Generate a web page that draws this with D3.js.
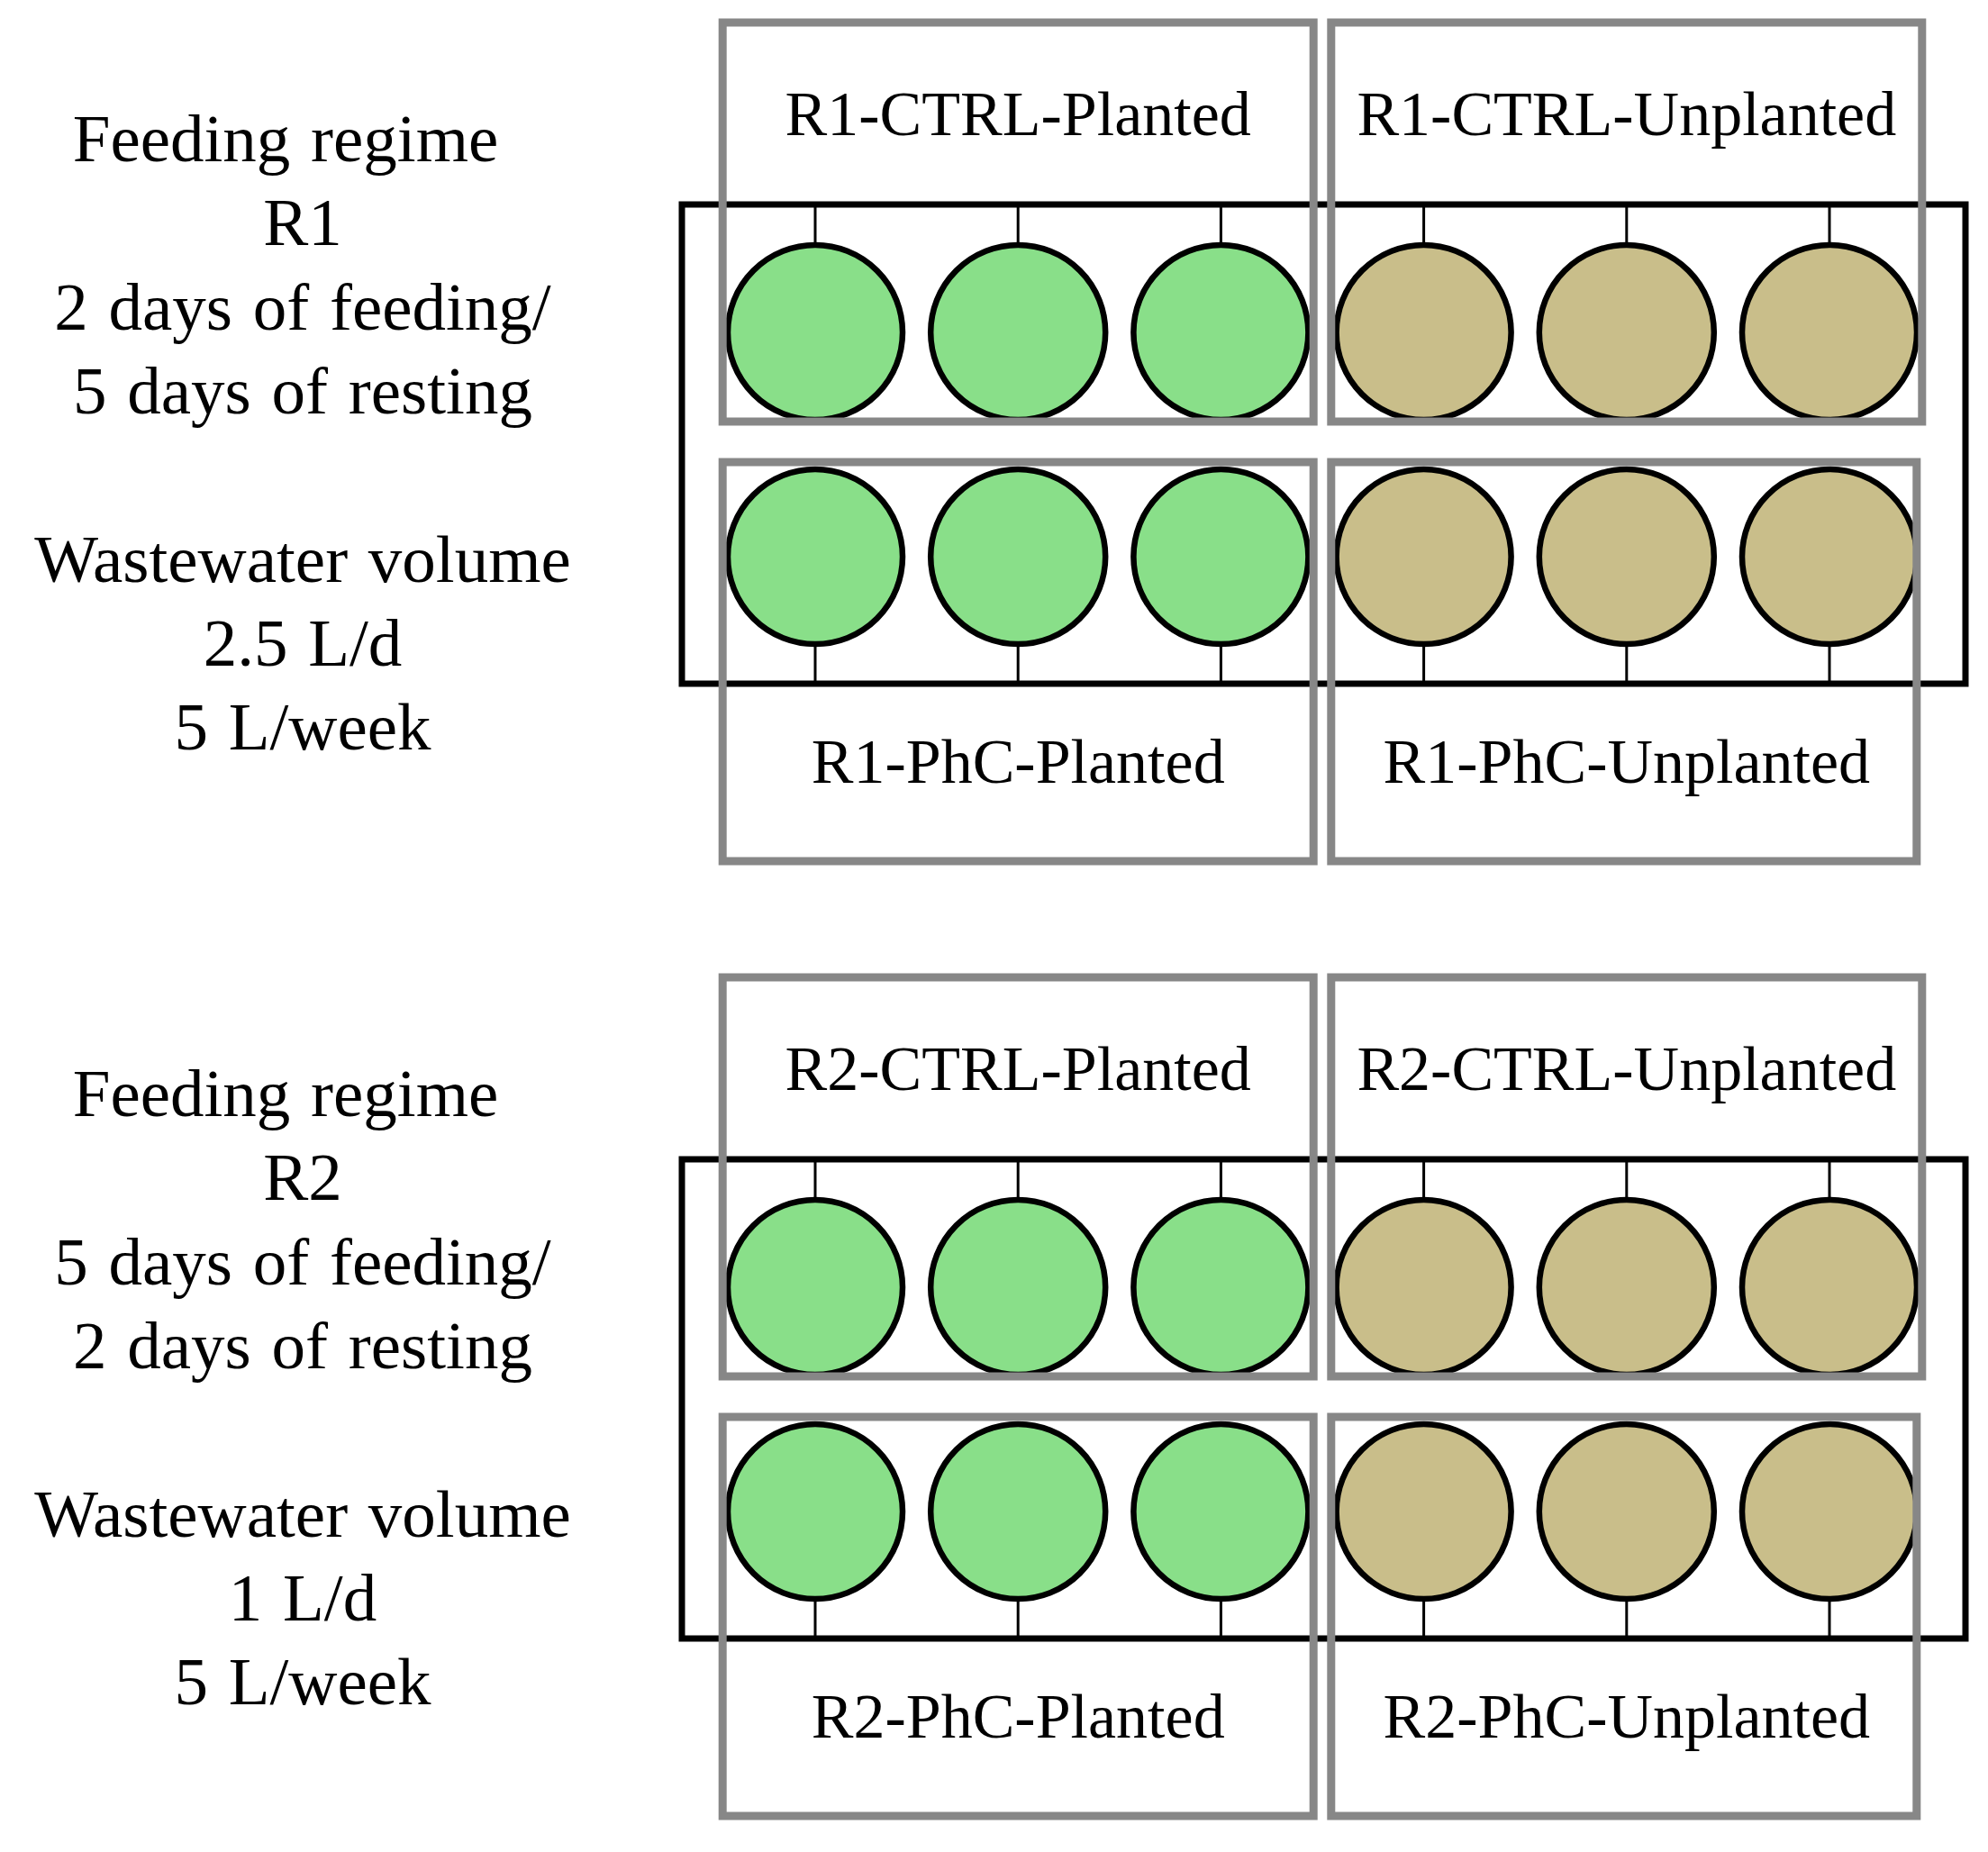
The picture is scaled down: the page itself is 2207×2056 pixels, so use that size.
<!DOCTYPE html>
<html>
    <head>
        <meta charset="utf-8">
        <script src="https://d3js.org/d3.v7.min.js"></script>
        <style>
            body { margin: 0; background: #fff; }
            text { font-family: "Liberation Serif", "Times New Roman", serif; fill: #000; }
        </style>
    </head>
    <body>
        <div id="my_dataviz"></div>
        <script>

            // experimental layout: 2 feeding regimes, each with CTRL / PhC rows
            var regimes = ["R1", "R2"];
            var rowTypes = ["CTRL", "PhC"];
            var plantTypes = ["Planted", "Unplanted"];
            var replicates = [1, 2, 3];
            var plantColors = ["#89df89", "#c9be8a"];

            // text next to each regime (empty string = blank line)
            var regimeNotes = [
                ["Feeding regime", "R1", "2 days of feeding/", "5 days of resting", "",
                 "Wastewater volume", "2.5 L/d", "5 L/week"],
                ["Feeding regime", "R2", "5 days of feeding/", "2 days of resting", "",
                 "Wastewater volume", "1 L/d", "5 L/week"]
            ];

            var width = 2207,
                height = 2056;

            var svg = d3.select("#my_dataviz")
                .append("svg")
                    .attr("width", width)
                    .attr("height", height);

            // one column per (planting, replicate)
            var columns = [];
            plantTypes.forEach(function(p, i) {
                replicates.forEach(function(r) {
                    columns.push({plant: p, pi: i, rep: r, key: p + r});
                });
            });

            var x = d3.scalePoint()
                .domain(columns.map(function(d) { return d.key }))
                .range([905, 2031]);

            var yPanel = d3.scalePoint().domain(regimes).range([0, 1060]);
            var yRow = d3.scalePoint().domain(rowTypes).range([369, 618]);

            var r = 97;
            var boxHalf = 328;
            var grey = "#878787";

            // centre x of each planting group
            function groupX(pi) {
                return d3.mean(columns.filter(function(c) { return c.pi == pi }), function(c) { return x(c.key) });
            }

            var panels = svg.selectAll(".panel")
                .data(regimes)
                .join("g")
                    .attr("class", "panel")
                    .attr("transform", function(d) { return `translate(0, ${yPanel(d)})` });

            // outer black frame
            panels.append("rect")
                .attr("x", 757)
                .attr("y", 227)
                .attr("width", 2182 - 757)
                .attr("height", 759 - 227)
                .attr("fill", "none")
                .attr("stroke", "black")
                .attr("stroke-width", 7);

            // build all cells for a panel
            panels.each(function(reg, ri) {
                var g = d3.select(this);
                var cells = [];
                rowTypes.forEach(function(row, k) {
                    columns.forEach(function(c) {
                        cells.push({row: row, k: k, col: c});
                    });
                });

                // stems to the frame
                g.selectAll(".stem")
                    .data(cells)
                    .join("line")
                        .attr("x1", function(d) { return x(d.col.key) })
                        .attr("x2", function(d) { return x(d.col.key) })
                        .attr("y1", function(d) { return d.k == 0 ? 227 : 759 })
                        .attr("y2", function(d) { return d.k == 0 ? yRow(d.row) - r : yRow(d.row) + r })
                        .attr("stroke", "black")
                        .attr("stroke-width", 3);

                g.selectAll(".cell")
                    .data(cells)
                    .join("circle")
                        .attr("cx", function(d) { return x(d.col.key) })
                        .attr("cy", function(d) { return yRow(d.row) })
                        .attr("r", r)
                        .attr("fill", function(d) { return plantColors[d.col.pi] })
                        .attr("stroke", "black")
                        .style("stroke-width", "6.5px");

                // grey treatment boxes
                var boxes = [];
                rowTypes.forEach(function(row, k) {
                    plantTypes.forEach(function(p, pi) {
                        boxes.push({row: row, k: k, plant: p, pi: pi,
                                    label: reg + "-" + row + "-" + p});
                    });
                });

                g.selectAll(".box")
                    .data(boxes)
                    .join("rect")
                        .attr("x", function(d) { return groupX(d.pi) - boxHalf })
                        .attr("y", function(d) { return d.k == 0 ? 25 : 513 })
                        .attr("width", function(d) { return d.pi == 1 && d.k == 1 ? 2 * boxHalf - 6 : 2 * boxHalf })
                        .attr("height", 443)
                        .attr("fill", "none")
                        .attr("stroke", grey)
                        .attr("stroke-width", 9);

                g.selectAll(".boxLabel")
                    .data(boxes)
                    .join("text")
                        .attr("x", function(d) { return groupX(d.pi) })
                        .attr("y", function(d) { return d.k == 0 ? 150 : 869 })
                        .attr("text-anchor", "middle")
                        .style("font-size", "70px")
                        .text(function(d) { return d.label });

                // description on the left
                g.selectAll(".note")
                    .data(regimeNotes[ri])
                    .join("text")
                        .attr("x", function(d, i) { return i == 0 ? 317 : 336 })
                        .attr("y", function(d, i) { return 179 + i * 93.3 })
                        .attr("text-anchor", "middle")
                        .style("font-size", "75px")
                        .style("word-spacing", "4px")
                        .text(function(d) { return d });
            });
        </script>
    </body>
</html>
